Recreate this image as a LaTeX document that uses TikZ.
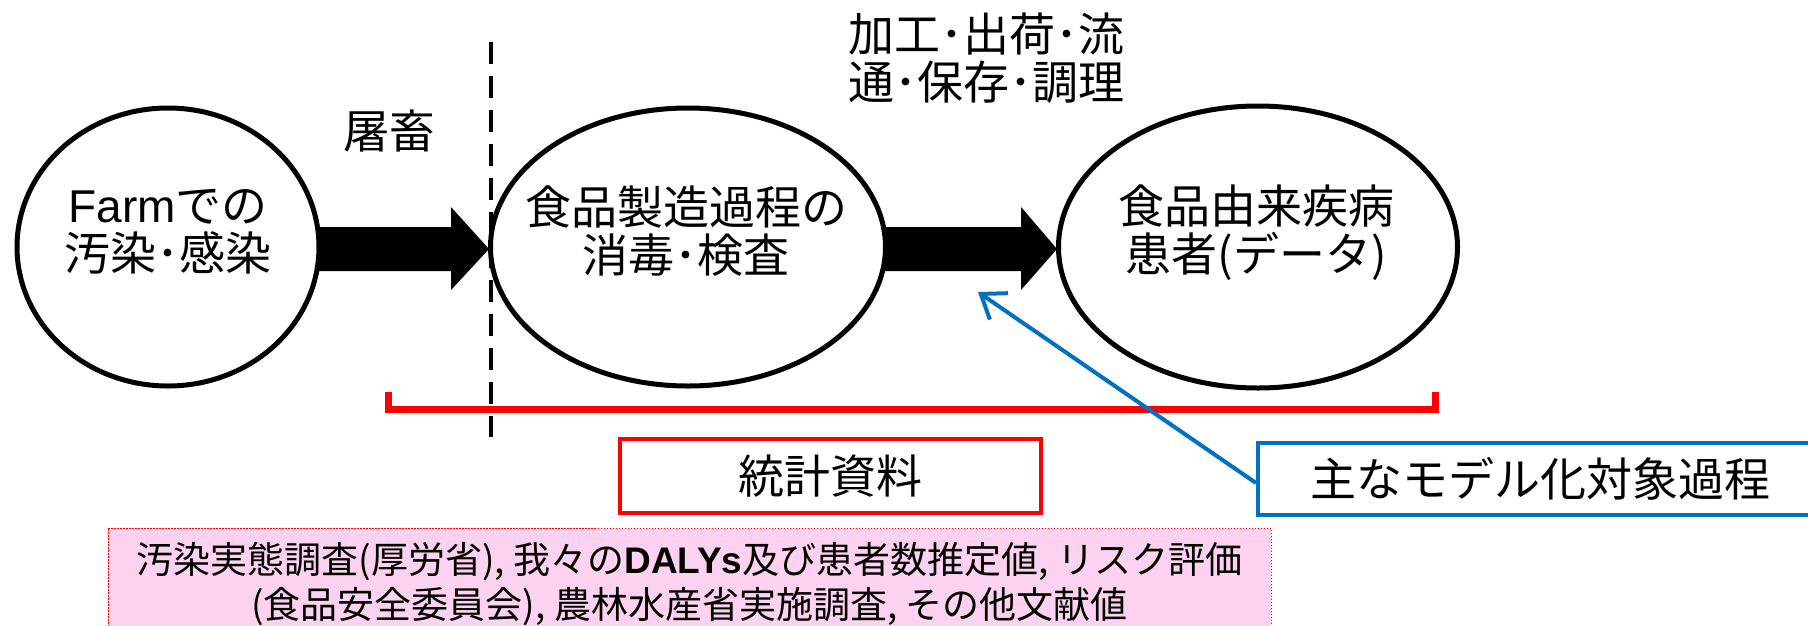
\documentclass[tikz,border=0pt]{standalone}
\usepackage{fontspec}
\setmainfont{Noto Sans CJK JP}
\newfontfamily\arialf{Liberation Sans}
\usetikzlibrary{arrows.meta,shapes.geometric,calc}
\definecolor{pptred}{RGB}{255,0,0}
\definecolor{pptblue}{RGB}{0,112,192}
\definecolor{pinkfill}{RGB}{252,210,240}
\begin{document}
\begin{tikzpicture}[x=1pt,y=-1pt,
  oval/.style={ellipse, draw, line width=5pt, inner sep=0pt},
  big/.style={font=\fontsize{46}{48}\selectfont, align=center, inner sep=0pt},
  small/.style={font=\fontsize{37}{45}\selectfont, align=center, inner sep=0pt},
  blockarrow/.style={fill=black},
  redbox/.style={draw=pptred, line width=4pt},
  bluebox/.style={draw=pptblue, line width=4pt},
  notebox/.style={draw=pptred, line width=1pt, dash pattern=on 1.5pt off 1.5pt, fill=pinkfill},
  bracketline/.style={draw=pptred, line width=7pt},
  pointer/.style={draw=pptblue, line width=4pt, -{Straight Barb[length=22pt,width=32pt]}},
  boundary/.style={line width=3.5pt, dash pattern=on 22pt off 12pt}
]
\useasboundingbox (0,0) rectangle (1808,625);
\fill[white] (0,0) rectangle (1808,625);

% ellipses
\node[oval, minimum width=302pt, minimum height=278pt] (e1) at (168,247) {};
\node[oval, minimum width=395pt, minimum height=278pt] (e2) at (688,247) {};
\node[oval, minimum width=399pt, minimum height=282pt] (e3) at (1258,247) {};

% texts in ellipses
\node[big] (t1) at (168,232) {{\arialf Farm}での\\汚染･感染};
\node[big] (t2) at (686,231) {食品製造過程の\\消毒･検査};
\node[big] (t3) at (1256,233) {食品由来疾病\\患者(データ)};

% labels above
\node[big] (slaughter) at (389,131) {屠畜};
\node[big, align=left] (proc) at (986,58) {加工･出荷･流\\通･保存･調理};

% block arrows
\fill[blockarrow] ($(e1.east)+(-3,-20)$) -- ($(e2.west)+(-37,-20)$) -- ($(e2.west)+(-37,-40)$)
  -- ($(e2.west)+(1,2)$) -- ($(e2.west)+(-37,43)$) -- ($(e2.west)+(-37,24)$)
  -- ($(e1.east)+(-3,24)$) -- cycle;
\fill[blockarrow] ($(e2.east)+(-3,-20)$) -- ($(e3.west)+(-35,-20)$) -- ($(e3.west)+(-35,-40)$)
  -- ($(e3.west)+(1,2)$) -- ($(e3.west)+(-35,43)$) -- ($(e3.west)+(-35,24)$)
  -- ($(e2.east)+(-3,24)$) -- cycle;

% red bracket
\coordinate (bl) at (388,392);
\coordinate (br) at (1435,392);
\draw[bracketline] (bl) -- ++(0,17) -| (br);

% dashed boundary
\coordinate (dtop) at (491,42);
\coordinate (dbot) at (491,437);
\draw[boundary] (dtop) -- (dbot);

% boxes
\node[redbox, big, minimum width=421pt, minimum height=74pt] (stats) at (830.5,476) {統計資料};
\node[bluebox, big, minimum width=564pt, minimum height=72pt] (model) at (1540,479) {主なモデル化対象過程};

% pointer
\coordinate (tgt) at (978,292);
\draw[pointer] ($(model.west)+(0,4)$) -- (tgt);

% note box
\node[notebox, small, minimum width=1163pt, minimum height=112pt] (refs) at (689.5,584)
  {汚染実態調査(厚労省), 我々の{\arialf\bfseries DALYs}及び患者数推定値, リスク評価\\(食品安全委員会), 農林水産省実施調査, その他文献値};
\end{tikzpicture}
\end{document}
